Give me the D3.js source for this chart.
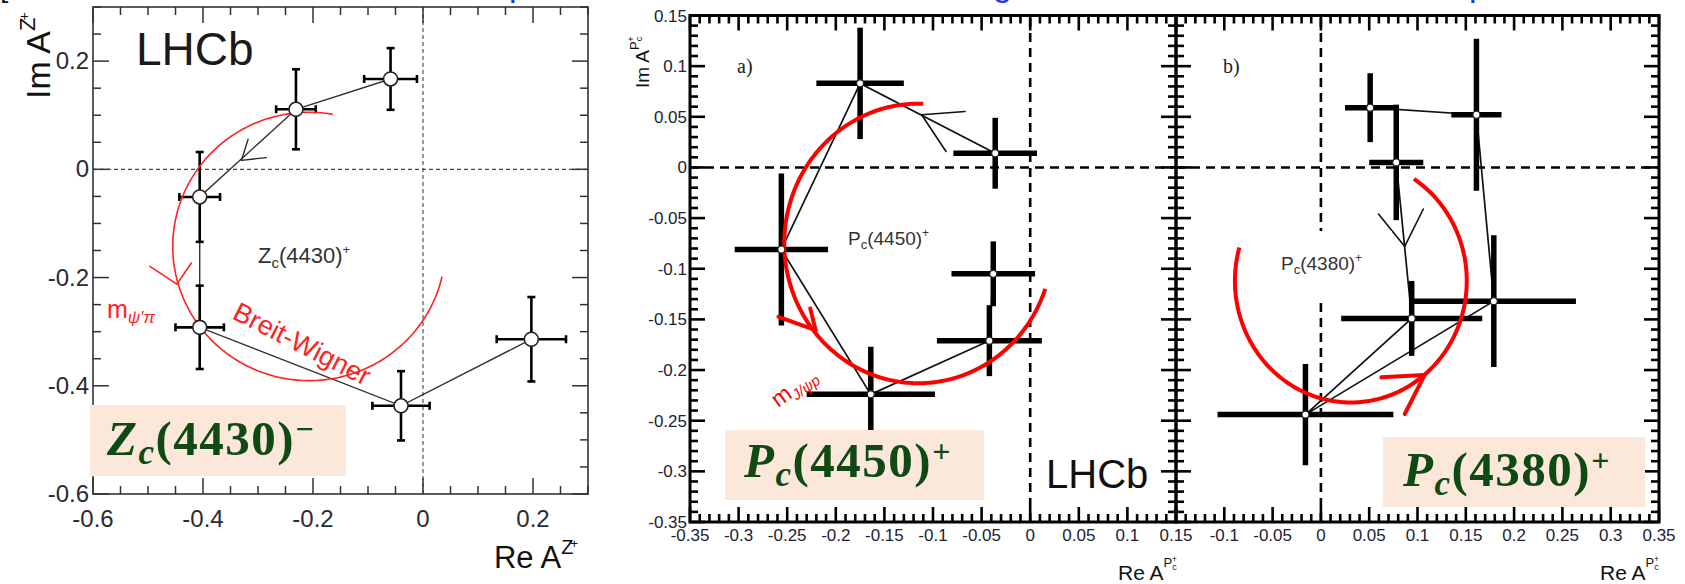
<!DOCTYPE html>
<html>
<head>
<meta charset="utf-8">
<script src="https://cdn.jsdelivr.net/npm/d3@7"></script>
<style>
body { margin: 0; background: #fff; overflow: hidden; }
svg { display: block; }
text { font-family: "Liberation Sans", Arial, sans-serif; }
</style>
</head>
<body>
<svg id="chart" width="1685" height="584"></svg>
<script>
// Z_c(4430) Argand points, in the order the line joins them
var zc_re = [-0.059, -0.231, -0.406, -0.406, -0.040, 0.197];
var zc_im = [0.167, 0.111, -0.051, -0.292, -0.437, -0.314];
var zc_re_err = [0.048, 0.036, 0.037, 0.044, 0.052, 0.063];
var zc_im_err = [0.057, 0.074, 0.083, 0.077, 0.064, 0.078];

// P_c(4450) points (panel a)
var pa_re = [-0.036, -0.175, -0.256, -0.164, -0.042, -0.038];
var pa_im = [0.014, 0.083, -0.081, -0.224, -0.171, -0.105];
var pa_re_err = [0.043, 0.045, 0.048, 0.066, 0.054, 0.043];
var pa_im_err = [0.035, 0.055, 0.075, 0.047, 0.035, 0.032];

// P_c(4380) points (panel b)
var pb_re = [0.078, 0.094, -0.016, 0.179, 0.161, 0.051];
var pb_im = [0.005, -0.149, -0.244, -0.132, 0.052, 0.059];
var pb_re_err = [0.028, 0.073, 0.091, 0.085, 0.026, 0.026];
var pb_im_err = [0.057, 0.037, 0.050, 0.065, 0.075, 0.034];

// Breit-Wigner circles: centre, radius, start / end angle (deg)
var bw_cx = [-0.207, -0.115, 0.031];
var bw_cy = [-0.1425, -0.075, -0.112];
var bw_r = [0.248, 0.138, 0.120];
var bw_a0 = [80, 88, 164];
var bw_a1 = [347, 341, 417];

// arrow heads: tip, arm 1, arm 2 (data units)
var arrows_left = [
  {c: "#222", tip: [-0.330, 0.0167], a1: [-0.285, 0.0216], a2: [-0.318, 0.0557]},
  {c: "#f22", tip: [-0.4476, -0.2121], a1: [-0.4965, -0.1793], a2: [-0.4211, -0.1732]}
];
var arrows_a = [
  {c: "#111", tip: [-0.1117, 0.052], a1: [-0.0669, 0.0553], a2: [-0.0866, 0.0158]},
  {c: "#f00", tip: [-0.2208, -0.1605], a1: [-0.259, -0.1474], a2: [-0.2263, -0.1391]}
];
var arrows_b = [
  {c: "#111", tip: [0.0868, -0.078], a1: [0.0596, -0.046], a2: [0.106, -0.041]},
  {c: "#f00", tip: [0.1073, -0.205], a1: [0.0626, -0.2072], a2: [0.0868, -0.2434]}
];

// tick labels
var left_ticks = [-0.6, -0.4, -0.2, 0, 0.2];
var pa_x_ticks = [-0.35, -0.3, -0.25, -0.2, -0.15, -0.1, -0.05, 0, 0.05, 0.1, 0.15];
var pb_x_ticks = [-0.1, -0.05, 0, 0.05, 0.1, 0.15, 0.2, 0.25, 0.3, 0.35];
var p_y_ticks = [0.15, 0.1, 0.05, 0, -0.05, -0.1, -0.15, -0.2, -0.25, -0.3, -0.35];

var svg = d3.select("#chart");

function fmt(v) {
    var s = String(Math.round(v * 100) / 100);
    return s === "-0" ? "0" : s;
}

function richText(g, x, y, parts, attrs) {
    var t = g.append("text").attr("x", x).attr("y", y);
    for (var k in attrs) {
        if (k === "font-family") t.style(k, attrs[k]);
        else t.attr(k, attrs[k]);
    }
    parts.forEach(function(p) {
        var s = t.append("tspan").text(p[0]);
        if (p[1]) s.attr("font-size", p[1]);
        if (p[2]) s.attr("dy", p[2]);
        if (p[3]) s.attr("font-style", p[3]);
        if (p[4]) s.attr("dx", p[4]);
    });
    return t;
}

function drawTicks(g, x, y, o) {
    var x0 = x.range()[0], x1 = x.range()[1], yb = y.range()[0], yt = y.range()[1];
    var isMajor = function(list, v) { return list.some(function(m) { return Math.abs(m - v) < 1e-6; }); };
    var seg = function(a, b, c, d) {
        g.append("line").attr("x1", a).attr("y1", b).attr("x2", c).attr("y2", d)
            .attr("stroke", o.color).attr("stroke-width", o.tw);
    };
    o.xminor.forEach(function(v) {
        var l = isMajor(o.xmajor, v) ? o.maj : o.min;
        seg(x(v), yb, x(v), yb - l);
        seg(x(v), yt, x(v), yt + l);
    });
    o.yminor.forEach(function(v) {
        var l = isMajor(o.ymajor, v) ? o.maj : o.min;
        seg(x0, y(v), x0 + l, y(v));
        seg(x1, y(v), x1 - l, y(v));
    });
    g.append("rect").attr("x", x0).attr("y", yt).attr("width", x1 - x0).attr("height", yb - yt)
        .attr("fill", "none").attr("stroke", o.color).attr("stroke-width", o.fw);
}

function bwPath(x, y, i) {
    var angles = d3.range(bw_a0[i], bw_a1[i] + 0.5, 1);
    return d3.line()
        .x(function(a) { return x(bw_cx[i] + bw_r[i] * Math.cos(a * Math.PI / 180)); })
        .y(function(a) { return y(bw_cy[i] + bw_r[i] * Math.sin(a * Math.PI / 180)); })(angles);
}

function drawPoints(g, x, y, re, im, rex, imx, st) {
    var idx = d3.range(re.length);
    g.append("path")
        .attr("d", d3.line().x(function(i) { return x(re[i]); }).y(function(i) { return y(im[i]); })(idx))
        .attr("fill", "none").attr("stroke", st.line).attr("stroke-width", st.lw);
    idx.forEach(function(i) {
        g.append("line").attr("x1", x(re[i] - rex[i])).attr("x2", x(re[i] + rex[i]))
            .attr("y1", y(im[i])).attr("y2", y(im[i]))
            .attr("stroke", "#000").attr("stroke-width", st.ew);
        g.append("line").attr("x1", x(re[i])).attr("x2", x(re[i]))
            .attr("y1", y(im[i] - imx[i])).attr("y2", y(im[i] + imx[i]))
            .attr("stroke", "#000").attr("stroke-width", st.ew);
        if (st.cap) {
            [re[i] - rex[i], re[i] + rex[i]].forEach(function(v) {
                g.append("line").attr("x1", x(v)).attr("x2", x(v))
                    .attr("y1", y(im[i]) - st.cap).attr("y2", y(im[i]) + st.cap)
                    .attr("stroke", "#000").attr("stroke-width", st.ew);
            });
            [im[i] - imx[i], im[i] + imx[i]].forEach(function(v) {
                g.append("line").attr("y1", y(v)).attr("y2", y(v))
                    .attr("x1", x(re[i]) - st.cap).attr("x2", x(re[i]) + st.cap)
                    .attr("stroke", "#000").attr("stroke-width", st.ew);
            });
        }
    });
    st.after && st.after();
    idx.forEach(function(i) {
        g.append("circle").attr("cx", x(re[i])).attr("cy", y(im[i])).attr("r", st.r)
            .attr("fill", "#fff").attr("stroke", "#222").attr("stroke-width", st.mw);
    });
}

function drawArrows(g, x, y, list, w, rw) {
    list.forEach(function(a) {
        [a.a1, a.a2].forEach(function(p) {
            g.append("line").attr("x1", x(a.tip[0])).attr("y1", y(a.tip[1]))
                .attr("x2", x(p[0])).attr("y2", y(p[1]))
                .attr("stroke", a.c).attr("stroke-width", a.c === "#111" || a.c === "#222" ? w : rw)
                .attr("stroke-linecap", "round");
        });
    });
}

function dashed(g, x, y, col, w, dash) {
    g.append("line").attr("x1", x.range()[0]).attr("x2", x.range()[1]).attr("y1", y(0)).attr("y2", y(0))
        .attr("stroke", col).attr("stroke-width", w).attr("stroke-dasharray", dash);
    g.append("line").attr("x1", x(0)).attr("x2", x(0)).attr("y1", y.range()[0]).attr("y2", y.range()[1])
        .attr("stroke", col).attr("stroke-width", w).attr("stroke-dasharray", dash);
}

// ---------- left panel: Z_c(4430) ----------
var xl = d3.scaleLinear().domain([-0.6, 0.3]).range([93, 588]);
var yl = d3.scaleLinear().domain([-0.6, 0.3]).range([494, 7]);
var gl = svg.append("g");

dashed(gl, xl, yl, "#444", 1.1, "4,3");
drawPoints(gl, xl, yl, zc_re, zc_im, zc_re_err, zc_im_err, {
    line: "#333", lw: 1.4, ew: 2.6, cap: 4, r: 7, mw: 1.6,
    after: function() {
        gl.append("path").attr("d", bwPath(xl, yl, 0)).attr("fill", "none")
            .attr("stroke", "#f22").attr("stroke-width", 1.6);
    }
});
drawArrows(gl, xl, yl, arrows_left, 1.3, 1.6);
drawTicks(gl, xl, yl, {
    xmajor: left_ticks, xminor: d3.range(-0.6, 0.3001, 0.05),
    ymajor: left_ticks, yminor: d3.range(-0.6, 0.3001, 0.05),
    maj: 16, min: 8, color: "#333", tw: 1.5, fw: 1.6
});
left_ticks.forEach(function(v) {
    gl.append("text").attr("x", xl(v)).attr("y", 527).attr("text-anchor", "middle")
        .attr("font-size", 24).attr("fill", "#2a2a33").text(fmt(v));
    gl.append("text").attr("x", 89).attr("y", yl(v) + 8).attr("text-anchor", "end")
        .attr("font-size", 24).attr("fill", "#2a2a33").text(fmt(v));
});
richText(gl, 578, 568, [["Re A", 31], ["Z", 20, -14], ["+", 13, -6, null, -3]],
    {"text-anchor": "end", "fill": "#111"});
richText(gl, 0, 0, [["Im A", 34], ["Z", 22, -15], ["+", 14, -6, null, -3]],
    {"text-anchor": "start", "fill": "#111", "transform": "translate(50,99) rotate(-90)"});
gl.append("text").attr("x", 136).attr("y", 65).attr("font-size", 46).attr("fill", "#1a1a1a").text("LHCb");
richText(gl, 258, 263, [["Z", 22], ["c", 15, 5], ["(4430)", 22, -5], ["+", 13, -9]], {"fill": "#333"});
richText(gl, 107, 318, [["m", 25], ["ψ′π", 17, 5, "italic"]], {"fill": "#f22"});
gl.append("text").attr("font-size", 27).attr("fill", "#f22").attr("text-anchor", "middle")
    .attr("dominant-baseline", "central")
    .attr("transform", "translate(302,344) rotate(27)").text("Breit-Wigner");

// ---------- panels a) and b): P_c ----------
var ya = d3.scaleLinear().domain([-0.35, 0.15]).range([522, 15.5]);
var xa = d3.scaleLinear().domain([-0.35, 0.15]).range([690, 1176]);
var xb = d3.scaleLinear().domain([-0.15, 0.35]).range([1176, 1659]);
var ga = svg.append("g"), gb = svg.append("g");

[[ga, xa, pa_re, pa_im, pa_re_err, pa_im_err, 1, arrows_a],
 [gb, xb, pb_re, pb_im, pb_re_err, pb_im_err, 2, arrows_b]].forEach(function(p) {
    var g = p[0], x = p[1];
    dashed(g, x, ya, "#000", 2.6, "9,6");
    drawPoints(g, x, ya, p[2], p[3], p[4], p[5], {
        line: "#111", lw: 1.7, ew: 5.5, cap: 0, r: 3.5, mw: 1.2,
        after: function() {
            g.append("path").attr("d", bwPath(x, ya, p[6])).attr("fill", "none")
                .attr("stroke", "#f00").attr("stroke-width", 4);
        }
    });
    drawArrows(g, x, ya, p[7], 1.6, 4);
});

var pTicks = d3.range(-0.35, 0.1501, 0.01);
drawTicks(ga, xa, ya, {
    xmajor: pa_x_ticks, xminor: pTicks,
    ymajor: p_y_ticks, yminor: pTicks,
    maj: 15, min: 8, color: "#000", tw: 2.6, fw: 3
});
drawTicks(gb, xb, ya, {
    xmajor: pb_x_ticks.concat([-0.15]), xminor: d3.range(-0.15, 0.3501, 0.01),
    ymajor: p_y_ticks, yminor: pTicks,
    maj: 15, min: 8, color: "#000", tw: 2.6, fw: 3
});
p_y_ticks.forEach(function(v) {
    ga.append("text").attr("x", 687).attr("y", ya(v) + 6).attr("text-anchor", "end")
        .attr("font-size", 17).attr("fill", "#222233").text(fmt(v));
});
[[ga, xa, pa_x_ticks], [gb, xb, pb_x_ticks]].forEach(function(p) {
    p[2].forEach(function(v) {
        p[0].append("text").attr("x", p[1](v)).attr("y", 541).attr("text-anchor", "middle")
            .attr("font-size", 17).attr("fill", "#222233").text(fmt(v));
    });
});
[1177, 1659].forEach(function(xe) {
    richText(svg, xe, 580, [["Re A", 21], ["P", 13, -13], ["c", 9, 3], ["+", 9, -8, null, -5]],
        {"text-anchor": "end", "fill": "#111"});
});
richText(svg, 0, 0, [["Im A", 19], ["P", 13, -10], ["c", 9, 3], ["+", 9, -8, null, -5]],
    {"fill": "#111", "transform": "translate(649,88) rotate(-90)"});
ga.append("text").attr("x", 737).attr("y", 73).attr("font-size", 20)
    .style("font-family", "'Liberation Serif', serif").attr("fill", "#222").text("a)");
gb.append("text").attr("x", 1223).attr("y", 73).attr("font-size", 20)
    .style("font-family", "'Liberation Serif', serif").attr("fill", "#222").text("b)");
richText(ga, 848, 245, [["P", 19], ["c", 13, 4], ["(4450)", 19, -4], ["+", 12, -8]], {"fill": "#333"});
// the b) label sits on a white pad that hides the dashed line behind it
gb.append("rect").attr("x", 1250).attr("y", 231).attr("width", 142).attr("height", 66).attr("fill", "#fff");
richText(gb, 1281, 270, [["P", 19], ["c", 13, 4], ["(4380)", 19, -4], ["+", 12, -8]], {"fill": "#333"});
ga.append("text").attr("x", 1046).attr("y", 488).attr("font-size", 40).attr("fill", "#111").text("LHCb");
richText(ga, 0, 0, [["m", 23], ["J/ψp", 15, 5, "italic"]],
    {"fill": "#f00", "transform": "translate(778,408) rotate(-36)"});

// ---------- name boxes ----------
var boxes = [
    {x: 90, y: 405, w: 256, h: 71, tx: 107, ty: 455, name: "Z", num: "(4430)", sup: "−"},
    {x: 725, y: 430, w: 259, h: 70, tx: 744, ty: 477, name: "P", num: "(4450)", sup: "+"},
    {x: 1383, y: 437, w: 262, h: 70, tx: 1403, ty: 486, name: "P", num: "(4380)", sup: "+"}
];
boxes.forEach(function(b) {
    svg.append("rect").attr("x", b.x).attr("y", b.y).attr("width", b.w).attr("height", b.h)
        .attr("fill", "#fbe8da");
    richText(svg, b.tx, b.ty,
        [[b.name, 49, 0, "italic"], ["c", 35, 9, "italic"], [b.num, 49, -9, "normal"], [b.sup, 32, -15, "normal"]],
        {"font-family": "'Liberation Serif', 'DejaVu Serif', serif", "font-weight": "bold",
         "fill": "#0f4a14", "letter-spacing": 1.5});
});

// cut-off slide title above the picture
[["p", 509], ["g", 993], ["p", 1469]].forEach(function(c) {
    svg.append("text").attr("x", c[1]).attr("y", -4).attr("font-size", 34)
        .attr("fill", "#2233ee").text(c[0]);
});
svg.append("text").attr("x", 0).attr("y", -3).attr("font-size", 30).attr("fill", "#111").text("[");
</script>
</body>
</html>
